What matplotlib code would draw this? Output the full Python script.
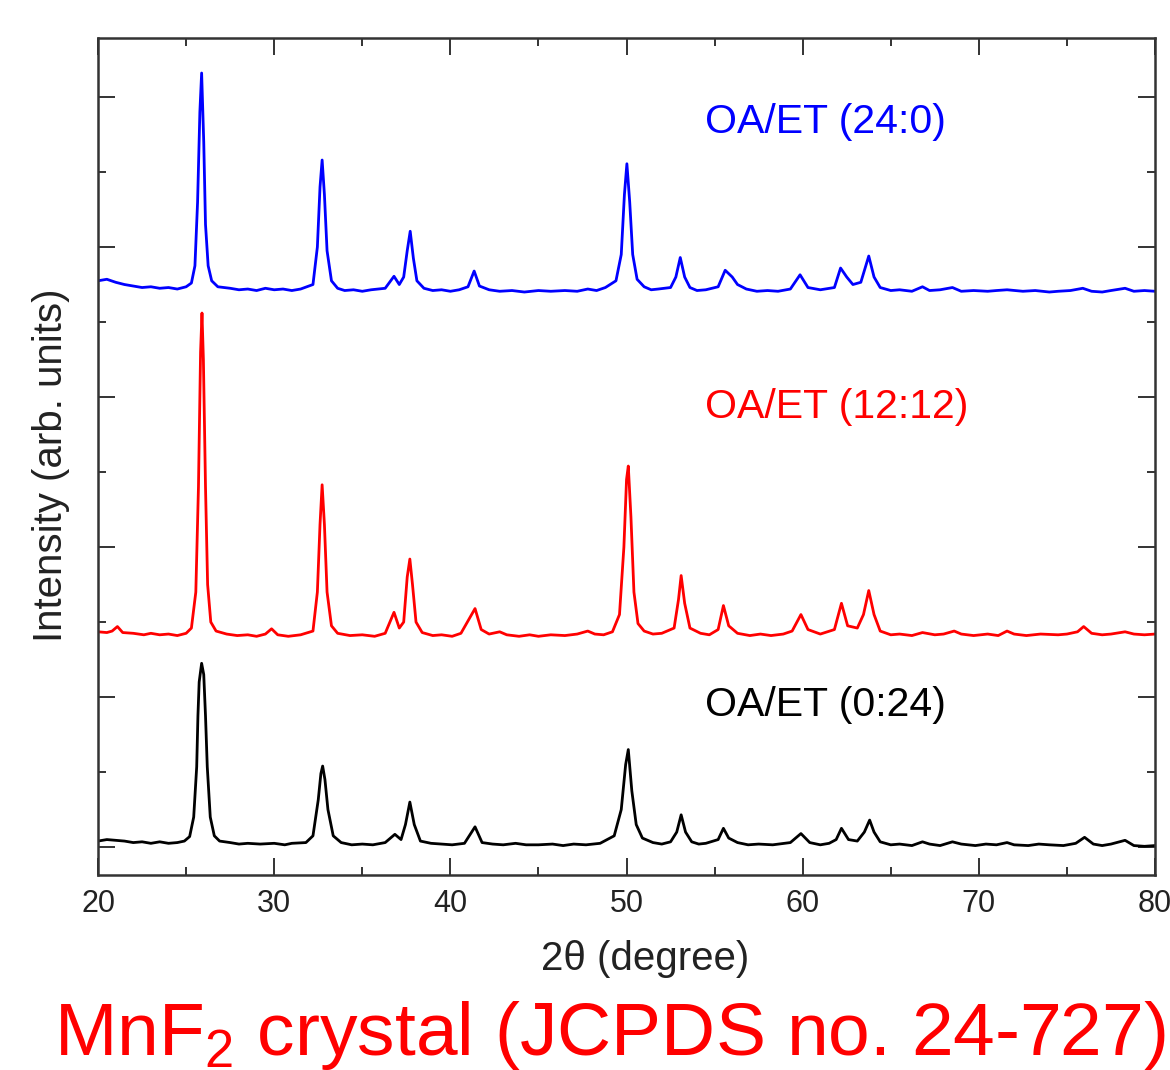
import numpy as np
import matplotlib
matplotlib.use('Agg')
import matplotlib.pyplot as plt

plt.rcParams['font.family'] = ['Liberation Sans', 'DejaVu Sans']
plt.rcParams['mathtext.fontset'] = 'custom'
plt.rcParams['mathtext.rm'] = 'Liberation Sans'

# XRD patterns: (2theta in degree, intensity, stacked offsets included)
black_pts = [(20.0, 0.08), (20.5, 0.10), (21.0, 0.09), (21.5, 0.08), (22.0, 0.06), (22.5, 0.07),
             (23.0, 0.05), (23.5, 0.07), (24.0, 0.05), (24.5, 0.06), (24.9, 0.08), (25.2, 0.14),
             (25.43, 0.40), (25.6, 1.07), (25.67, 1.75), (25.74, 2.20), (25.88, 2.45), (26.0, 2.30),
             (26.1, 1.75), (26.2, 1.07), (26.37, 0.40), (26.6, 0.15), (26.9, 0.08), (27.5, 0.06),
             (28.0, 0.04), (28.5, 0.05), (29.2, 0.04), (30.0, 0.05), (30.6, 0.03), (31.0, 0.05),
             (31.8, 0.06), (32.2, 0.15), (32.5, 0.63), (32.65, 0.98), (32.75, 1.08), (32.88, 0.90),
             (33.05, 0.50), (33.35, 0.15), (33.8, 0.06), (34.4, 0.03), (35.0, 0.04), (35.6, 0.03),
             (36.3, 0.06), (36.85, 0.17), (37.2, 0.10), (37.45, 0.30), (37.7, 0.60), (37.95, 0.30),
             (38.3, 0.08), (38.9, 0.05), (39.5, 0.04), (40.1, 0.03), (40.8, 0.05), (41.4, 0.27),
             (41.8, 0.06), (42.4, 0.04), (43.0, 0.03), (43.7, 0.05), (44.3, 0.03), (45.0, 0.03),
             (45.8, 0.04), (46.4, 0.02), (47.0, 0.04), (47.7, 0.03), (48.5, 0.05), (49.3, 0.15),
             (49.7, 0.50), (49.95, 1.10), (50.1, 1.30), (50.3, 0.75), (50.55, 0.30), (50.9, 0.12),
             (51.5, 0.06), (52.0, 0.04), (52.5, 0.07), (52.85, 0.20), (53.1, 0.43), (53.35, 0.20),
             (53.7, 0.07), (54.1, 0.04), (54.5, 0.05), (55.2, 0.10), (55.5, 0.25), (55.8, 0.12),
             (56.3, 0.06), (56.9, 0.03), (57.5, 0.04), (58.3, 0.03), (59.3, 0.06), (59.9, 0.18),
             (60.4, 0.06), (61.0, 0.03), (61.5, 0.05), (61.9, 0.10), (62.2, 0.25), (62.6, 0.10),
             (63.1, 0.08), (63.5, 0.20), (63.8, 0.36), (64.05, 0.20), (64.4, 0.07), (65.0, 0.03),
             (65.5, 0.04), (66.2, 0.02), (66.8, 0.07), (67.2, 0.04), (67.8, 0.02), (68.5, 0.07),
             (69.0, 0.04), (69.8, 0.02), (70.4, 0.04), (71.0, 0.03), (71.6, 0.06), (72.0, 0.03),
             (72.8, 0.02), (73.4, 0.04), (74.0, 0.03), (74.8, 0.02), (75.5, 0.05), (76.0, 0.13),
             (76.5, 0.04), (77.0, 0.02), (77.5, 0.04), (78.3, 0.09), (78.8, 0.02), (79.4, 0.01),
             (80.0, 0.02)]

red_pts = [(20.0, 2.87), (20.5, 2.86), (20.8, 2.88), (21.1, 2.94), (21.4, 2.86), (22.0, 2.85),
           (22.6, 2.83), (23.0, 2.85), (23.5, 2.83), (24.0, 2.84), (24.5, 2.82), (25.0, 2.85),
           (25.3, 2.92), (25.55, 3.40), (25.7, 4.80), (25.82, 6.60), (25.9, 7.12), (25.98, 6.50),
           (26.1, 4.80), (26.22, 3.50), (26.4, 3.00), (26.7, 2.88), (27.3, 2.84), (27.9, 2.82),
           (28.5, 2.83), (29.0, 2.81), (29.5, 2.84), (29.85, 2.91), (30.2, 2.83), (30.8, 2.81),
           (31.5, 2.83), (32.2, 2.88), (32.45, 3.40), (32.6, 4.30), (32.72, 4.83), (32.85, 4.30),
           (33.0, 3.40), (33.25, 2.95), (33.6, 2.85), (34.3, 2.82), (35.0, 2.83), (35.7, 2.81),
           (36.3, 2.85), (36.8, 3.13), (37.1, 2.92), (37.35, 3.00), (37.55, 3.60), (37.7, 3.84),
           (37.85, 3.50), (38.05, 3.00), (38.4, 2.86), (39.0, 2.82), (39.5, 2.83), (40.1, 2.81),
           (40.6, 2.85), (41.4, 3.18), (41.75, 2.90), (42.2, 2.84), (42.8, 2.87), (43.2, 2.83),
           (43.9, 2.81), (44.5, 2.83), (45.0, 2.81), (45.7, 2.83), (46.5, 2.82), (47.2, 2.84),
           (47.8, 2.88), (48.2, 2.84), (48.7, 2.83), (49.2, 2.87), (49.6, 3.10), (49.85, 4.00),
           (50.0, 4.90), (50.1, 5.08), (50.25, 4.40), (50.42, 3.40), (50.65, 2.98), (51.0, 2.88),
           (51.5, 2.84), (52.0, 2.85), (52.7, 2.92), (52.95, 3.30), (53.1, 3.62), (53.3, 3.25),
           (53.6, 2.92), (54.2, 2.85), (54.7, 2.83), (55.2, 2.90), (55.5, 3.22), (55.8, 2.95),
           (56.3, 2.85), (57.0, 2.82), (57.6, 2.84), (58.2, 2.82), (58.9, 2.84), (59.4, 2.88),
           (59.9, 3.10), (60.3, 2.90), (61.0, 2.84), (61.8, 2.90), (62.2, 3.25), (62.55, 2.95),
           (63.1, 2.92), (63.45, 3.10), (63.75, 3.42), (64.05, 3.10), (64.4, 2.88), (65.0, 2.83),
           (65.5, 2.84), (66.2, 2.82), (66.8, 2.86), (67.5, 2.83), (68.0, 2.84), (68.6, 2.88),
           (69.0, 2.84), (69.7, 2.82), (70.5, 2.84), (71.1, 2.82), (71.6, 2.88), (72.0, 2.84),
           (72.7, 2.82), (73.5, 2.84), (74.5, 2.83), (75.0, 2.84), (75.6, 2.87), (75.95, 2.94),
           (76.4, 2.85), (77.0, 2.83), (77.5, 2.84), (78.3, 2.87), (78.8, 2.84), (79.4, 2.83),
           (80.0, 2.84)]

blue_pts = [(20.0, 7.55), (20.5, 7.57), (21.0, 7.53), (21.5, 7.50), (22.0, 7.48), (22.5, 7.46),
            (23.0, 7.47), (23.5, 7.45), (24.0, 7.46), (24.5, 7.44), (25.0, 7.47), (25.3, 7.52),
            (25.5, 7.75), (25.65, 8.60), (25.78, 9.80), (25.88, 10.32), (26.0, 9.40), (26.1, 8.30),
            (26.25, 7.75), (26.45, 7.55), (26.8, 7.47), (27.5, 7.45), (28.0, 7.43), (28.5, 7.44),
            (29.0, 7.42), (29.5, 7.45), (30.0, 7.43), (30.5, 7.44), (31.0, 7.42), (31.5, 7.44),
            (32.2, 7.50), (32.45, 8.00), (32.6, 8.80), (32.72, 9.16), (32.85, 8.70), (33.0, 7.95),
            (33.25, 7.55), (33.6, 7.45), (34.0, 7.42), (34.5, 7.43), (35.0, 7.41), (35.5, 7.43),
            (36.3, 7.45), (36.8, 7.61), (37.1, 7.50), (37.35, 7.60), (37.55, 7.95), (37.72, 8.21),
            (37.9, 7.85), (38.1, 7.55), (38.5, 7.45), (39.0, 7.42), (39.5, 7.43), (40.0, 7.41),
            (40.5, 7.43), (41.0, 7.47), (41.35, 7.68), (41.65, 7.48), (42.2, 7.43), (42.8, 7.41),
            (43.5, 7.42), (44.2, 7.40), (45.0, 7.42), (45.7, 7.41), (46.5, 7.42), (47.2, 7.41),
            (47.8, 7.44), (48.3, 7.42), (48.8, 7.46), (49.4, 7.55), (49.7, 7.90), (49.88, 8.70),
            (50.02, 9.11), (50.18, 8.60), (50.35, 7.90), (50.6, 7.57), (51.0, 7.47), (51.4, 7.43),
            (51.8, 7.44), (52.5, 7.46), (52.8, 7.60), (53.05, 7.86), (53.3, 7.60), (53.6, 7.46),
            (54.0, 7.42), (54.5, 7.43), (55.2, 7.47), (55.6, 7.69), (56.0, 7.60), (56.3, 7.50),
            (56.8, 7.44), (57.4, 7.41), (58.0, 7.42), (58.6, 7.41), (59.3, 7.44), (59.85, 7.63),
            (60.3, 7.46), (61.0, 7.43), (61.8, 7.46), (62.15, 7.72), (62.5, 7.60), (62.85, 7.50),
            (63.3, 7.53), (63.75, 7.88), (64.05, 7.60), (64.4, 7.46), (65.0, 7.42), (65.5, 7.43),
            (66.2, 7.41), (66.8, 7.47), (67.2, 7.42), (67.8, 7.43), (68.5, 7.46), (69.0, 7.41),
            (69.7, 7.42), (70.5, 7.41), (71.0, 7.42), (71.6, 7.43), (72.5, 7.41), (73.2, 7.42),
            (74.0, 7.40), (74.5, 7.41), (75.2, 7.42), (75.9, 7.45), (76.4, 7.41), (77.0, 7.40),
            (77.5, 7.42), (78.3, 7.45), (78.8, 7.41), (79.4, 7.42), (80.0, 7.41)]

series = [
    (black_pts, 'black', 'OA/ET (0:24)', 1.89),
    (red_pts, '#ff0000', 'OA/ET (12:12)', 5.87),
    (blue_pts, '#0000ff', 'OA/ET (24:0)', 9.67),
]

fig = plt.figure(figsize=(11.7, 10.7), dpi=100)
ax = fig.add_axes([0.0838, 0.1822, 0.9034, 0.7823])

for pts, col, name, ylab in series:
    x, y = np.array(pts).T
    ax.plot(x, y, color=col, lw=2.0)
    ax.text(54.45, ylab, name, color=col, fontsize=29.5, va='center', ha='left')

ax.set_xlim(20, 80)
ax.set_ylim(-0.373, 10.787)
ax.set_xticks(range(20, 81, 10))
ax.set_xticks(range(25, 80, 10), minor=True)
ax.set_yticks(range(0, 11, 2))
ax.set_yticks(range(1, 11, 2), minor=True)
ax.set_yticklabels([])
ax.tick_params(which='both', direction='in', top=True, right=True, width=1.4, color='#333333')
ax.tick_params(which='major', length=12, labelsize=22, pad=10, labelcolor='#222222')
ax.tick_params(which='minor', length=6)
for s in ax.spines.values():
    s.set_linewidth(1.8)
    s.set_color('#333333')

ax.set_xlabel('2θ (degree)', fontsize=29, color='#222222')
ax.xaxis.set_label_coords(0.518, -0.078)
ax.set_ylabel('Intensity (arb. units)', fontsize=29, color='#222222')
ax.yaxis.set_label_coords(-0.027, 0.49)

fig.text(0.521, 0.014, 'MnF$_\\mathregular{2}$ crystal (JCPDS no. 24-727)', color='#ff0000',
         fontsize=54, ha='center', va='baseline')

plt.savefig('out.png', dpi=100)
